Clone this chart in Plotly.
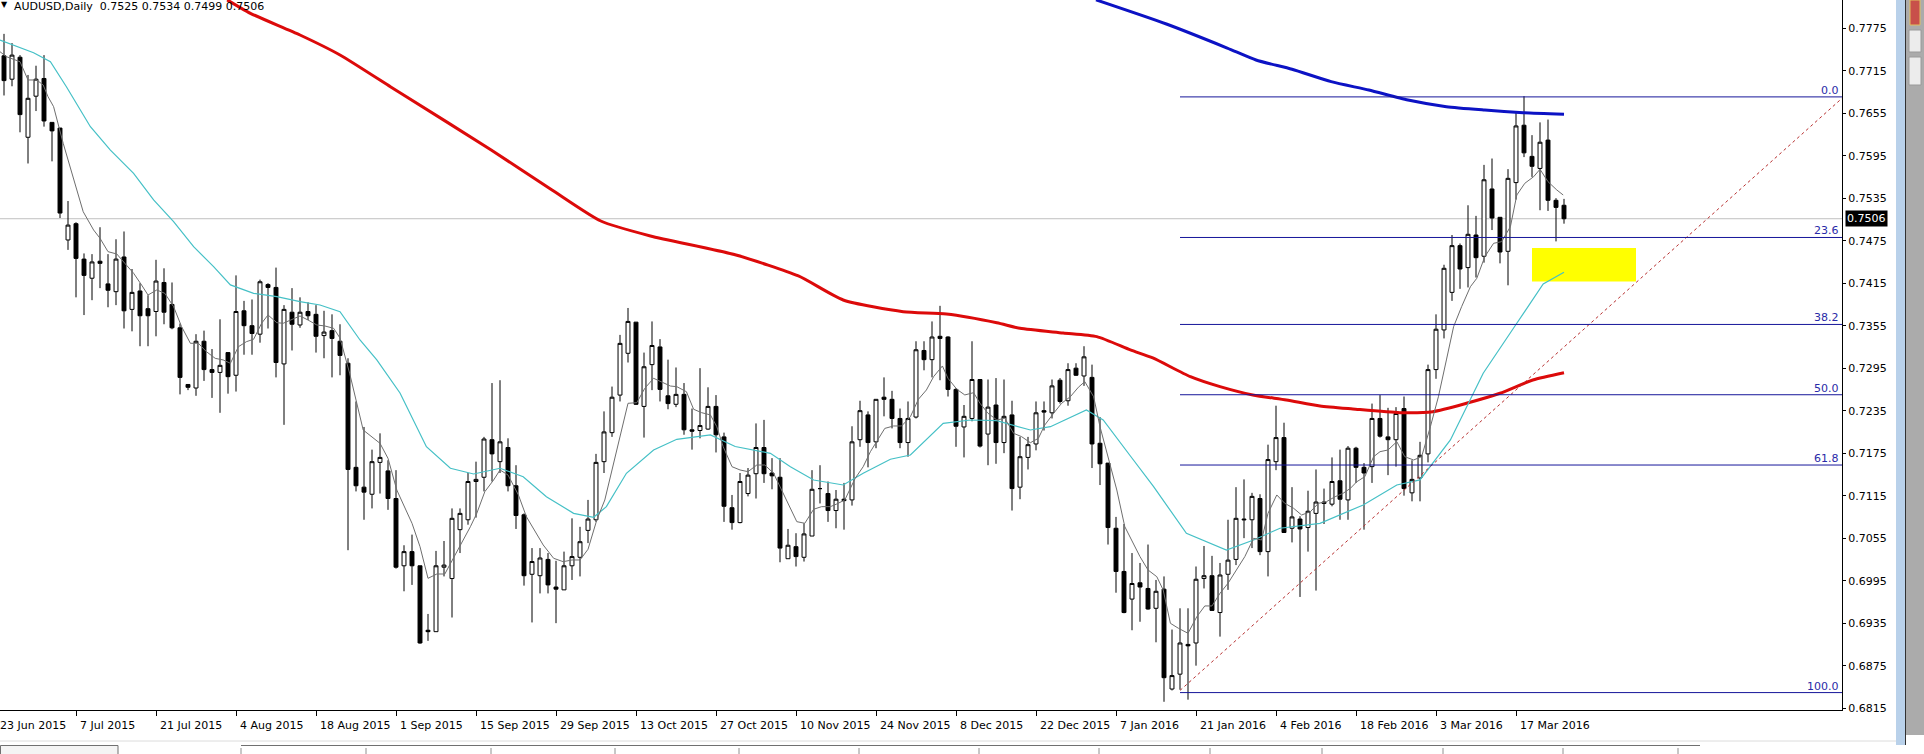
import plotly.graph_objects as go

# ---------------- data ----------------
symbol_title = "AUDUSD,Daily  0.7525 0.7534 0.7499 0.7506"

bars = list(range(1, 197))

open_ = [
    0.7736, 0.7703, 0.7734, 0.7621, 0.7679, 0.7704, 0.7642, 0.7634, 0.7476, 0.7499,
    0.7449, 0.7422, 0.7446, 0.7414, 0.7403, 0.7452, 0.7378, 0.7404, 0.7379, 0.7375,
    0.7416, 0.7385, 0.7352, 0.7272, 0.7267, 0.7333, 0.7293, 0.7289, 0.7317, 0.7285,
    0.7376, 0.7355, 0.7343, 0.7413, 0.7409, 0.7301, 0.7374, 0.7356, 0.7375, 0.7371,
    0.7341, 0.7348, 0.7333, 0.7302, 0.7155, 0.7127, 0.7117, 0.7162, 0.7150, 0.7111,
    0.7016, 0.7036, 0.7016, 0.6925, 0.6923, 0.7014, 0.6998, 0.7067, 0.7081, 0.7135,
    0.7141, 0.7194, 0.7163, 0.7183, 0.7129, 0.7088, 0.7004, 0.7002, 0.7025, 0.6986,
    0.6982, 0.7016, 0.7028, 0.7066, 0.7081, 0.7163, 0.7204, 0.7257, 0.7316, 0.7360,
    0.7241, 0.7300, 0.7325, 0.7256, 0.7244, 0.7258, 0.7208, 0.7207, 0.7209, 0.7241,
    0.7198, 0.7098, 0.7077, 0.7118, 0.7146, 0.7183, 0.7147, 0.7141, 0.7026, 0.7043,
    0.7028, 0.7058, 0.7125, 0.7118, 0.7094, 0.7110, 0.7109, 0.7194, 0.7229, 0.7191,
    0.7254, 0.7251, 0.7224, 0.7190, 0.7226, 0.7320, 0.7307, 0.7340, 0.7339, 0.7265,
    0.7212, 0.7224, 0.7279, 0.7202, 0.7243, 0.7190, 0.7229, 0.7127, 0.7169, 0.7188,
    0.7235, 0.7232, 0.7278, 0.7249, 0.7295, 0.7284, 0.7282, 0.7189, 0.7161, 0.7069,
    0.7008, 0.6969, 0.6992, 0.6984, 0.6956, 0.6983, 0.6842, 0.6863, 0.6905, 0.6907,
    0.6998, 0.7002, 0.6950, 0.7004, 0.7025, 0.7082, 0.7081, 0.7111, 0.7036, 0.7163,
    0.7197, 0.7069, 0.7082, 0.7070, 0.7090, 0.7104, 0.7103, 0.7136, 0.7109, 0.7182,
    0.7155, 0.7156, 0.7224, 0.7198, 0.7194, 0.7238, 0.7119, 0.7140, 0.7174, 0.7293,
    0.7349, 0.7402, 0.7468, 0.7437, 0.7483, 0.7453, 0.7548, 0.7508, 0.7460, 0.7557,
    0.7638, 0.7594, 0.7577, 0.7617, 0.7532, 0.7525,
]
high = [
    0.7767, 0.7754, 0.7737, 0.7709, 0.7722, 0.7737, 0.7642, 0.7634, 0.7531, 0.7501,
    0.7457, 0.7456, 0.7494, 0.7456, 0.7477, 0.7488, 0.7435, 0.7415, 0.7398, 0.7448,
    0.7436, 0.7416, 0.7358, 0.7272, 0.7343, 0.7348, 0.7322, 0.7364, 0.7317, 0.7426,
    0.7390, 0.7392, 0.7420, 0.7415, 0.7437, 0.7384, 0.7408, 0.7395, 0.7388, 0.7384,
    0.7376, 0.7371, 0.7357, 0.7309, 0.7248, 0.7212, 0.7180, 0.7203, 0.7165, 0.7151,
    0.7045, 0.7060, 0.7016, 0.6948, 0.7037, 0.7051, 0.7097, 0.7097, 0.7147, 0.7163,
    0.7198, 0.7274, 0.7278, 0.7196, 0.7158, 0.7090, 0.7041, 0.7041, 0.7034, 0.7023,
    0.7036, 0.7083, 0.7071, 0.7109, 0.7174, 0.7234, 0.7269, 0.7342, 0.7380, 0.7360,
    0.7317, 0.7361, 0.7336, 0.7307, 0.7296, 0.7274, 0.7238, 0.7295, 0.7268, 0.7257,
    0.7204, 0.7116, 0.7147, 0.7154, 0.7217, 0.7222, 0.7168, 0.7168, 0.7068, 0.7062,
    0.7076, 0.7151, 0.7158, 0.7135, 0.7123, 0.7133, 0.7213, 0.7249, 0.7234, 0.7251,
    0.7282, 0.7263, 0.7238, 0.7248, 0.7333, 0.7333, 0.7361, 0.7383, 0.7340, 0.7267,
    0.7243, 0.7333, 0.7279, 0.7279, 0.7281, 0.7279, 0.7249, 0.7198, 0.7198, 0.7248,
    0.7248, 0.7279, 0.7281, 0.7302, 0.7302, 0.7326, 0.7300, 0.7226, 0.7161, 0.7085,
    0.7075, 0.7034, 0.7020, 0.7046, 0.6996, 0.7001, 0.6926, 0.6956, 0.6956, 0.7015,
    0.7044, 0.7030, 0.7020, 0.7081, 0.7127, 0.7138, 0.7119, 0.7117, 0.7187, 0.7242,
    0.7218, 0.7127, 0.7086, 0.7122, 0.7152, 0.7125, 0.7169, 0.7180, 0.7185, 0.7184,
    0.7161, 0.7245, 0.7257, 0.7239, 0.7240, 0.7255, 0.7165, 0.7191, 0.7300, 0.7371,
    0.7441, 0.7483, 0.7471, 0.7525, 0.7510, 0.7582, 0.7591, 0.7508, 0.7576, 0.7656,
    0.7679, 0.7624, 0.7642, 0.7646, 0.7535, 0.7534,
]
low = [
    0.7680, 0.7693, 0.7628, 0.7584, 0.7658, 0.7636, 0.7587, 0.7507, 0.7462, 0.7395,
    0.7370, 0.7391, 0.7408, 0.7381, 0.7384, 0.7351, 0.7347, 0.7326, 0.7326, 0.7340,
    0.7357, 0.7350, 0.7258, 0.7264, 0.7256, 0.7277, 0.7253, 0.7232, 0.7259, 0.7262,
    0.7314, 0.7314, 0.7331, 0.7351, 0.7282, 0.7215, 0.7320, 0.7352, 0.7363, 0.7317,
    0.7309, 0.7282, 0.7285, 0.7038, 0.7121, 0.7081, 0.7097, 0.7118, 0.7095, 0.7012,
    0.6980, 0.6989, 0.6906, 0.6910, 0.6923, 0.7001, 0.6943, 0.7034, 0.7074, 0.7084,
    0.7121, 0.7135, 0.7147, 0.7121, 0.7068, 0.6988, 0.6936, 0.6977, 0.6977, 0.6935,
    0.6982, 0.6996, 0.7001, 0.7048, 0.7078, 0.7147, 0.7198, 0.7248, 0.7303, 0.7243,
    0.7197, 0.7264, 0.7248, 0.7237, 0.7240, 0.7201, 0.7180, 0.7196, 0.7208, 0.7176,
    0.7078, 0.7067, 0.7076, 0.7114, 0.7111, 0.7133, 0.7124, 0.7021, 0.7026, 0.7015,
    0.7022, 0.7058, 0.7104, 0.7078, 0.7069, 0.7067, 0.7101, 0.7184, 0.7155, 0.7182,
    0.7227, 0.7210, 0.7182, 0.7170, 0.7224, 0.7292, 0.7282, 0.7278, 0.7255, 0.7184,
    0.7169, 0.7220, 0.7183, 0.7158, 0.7160, 0.7175, 0.7094, 0.7110, 0.7152, 0.7179,
    0.7207, 0.7224, 0.7245, 0.7242, 0.7284, 0.7270, 0.7154, 0.7130, 0.7046, 0.6978,
    0.6949, 0.6925, 0.6937, 0.6954, 0.6908, 0.6824, 0.6840, 0.6841, 0.6827, 0.6875,
    0.6984, 0.6953, 0.6916, 0.6982, 0.7017, 0.7055, 0.7041, 0.7031, 0.7001, 0.7151,
    0.7063, 0.7049, 0.6972, 0.7036, 0.6981, 0.7075, 0.7100, 0.7081, 0.7081, 0.7133,
    0.7067, 0.7133, 0.7197, 0.7144, 0.7156, 0.7115, 0.7107, 0.7107, 0.7162, 0.7280,
    0.7337, 0.7390, 0.7407, 0.7409, 0.7423, 0.7444, 0.7490, 0.7443, 0.7412, 0.7533,
    0.7593, 0.7565, 0.7518, 0.7517, 0.7474, 0.7499,
]
close = [
    0.7701, 0.7737, 0.7653, 0.7676, 0.7703, 0.7644, 0.7630, 0.7514, 0.7497, 0.7450,
    0.7426, 0.7445, 0.7443, 0.7405, 0.7449, 0.7376, 0.7402, 0.7369, 0.7369, 0.7418,
    0.7374, 0.7352, 0.7282, 0.7268, 0.7333, 0.7293, 0.7289, 0.7299, 0.7283, 0.7375,
    0.7355, 0.7344, 0.7417, 0.7409, 0.7303, 0.7378, 0.7357, 0.7374, 0.7369, 0.7340,
    0.7346, 0.7337, 0.7313, 0.7152, 0.7129, 0.7120, 0.7163, 0.7169, 0.7111, 0.7014,
    0.7036, 0.7016, 0.6907, 0.6923, 0.7016, 0.7017, 0.7083, 0.7090, 0.7135, 0.7138,
    0.7195, 0.7174, 0.7191, 0.7129, 0.7087, 0.7002, 0.7022, 0.7027, 0.6989, 0.6983,
    0.7016, 0.7029, 0.7050, 0.7082, 0.7162, 0.7205, 0.7254, 0.7330, 0.7361, 0.7244,
    0.7297, 0.7327, 0.7265, 0.7245, 0.7258, 0.7208, 0.7206, 0.7214, 0.7241, 0.7201,
    0.7100, 0.7077, 0.7135, 0.7144, 0.7183, 0.7146, 0.7143, 0.7041, 0.7045, 0.7029,
    0.7061, 0.7124, 0.7125, 0.7094, 0.7110, 0.7108, 0.7191, 0.7235, 0.7190, 0.7251,
    0.7251, 0.7224, 0.7190, 0.7224, 0.7321, 0.7307, 0.7339, 0.7337, 0.7265, 0.7213,
    0.7227, 0.7279, 0.7185, 0.7240, 0.7190, 0.7227, 0.7125, 0.7170, 0.7187, 0.7232,
    0.7233, 0.7270, 0.7248, 0.7293, 0.7285, 0.7311, 0.7188, 0.7160, 0.7070, 0.7008,
    0.6950, 0.6991, 0.6986, 0.6955, 0.6980, 0.6858, 0.6861, 0.6907, 0.6903, 0.6997,
    0.7002, 0.6953, 0.7003, 0.7024, 0.7083, 0.7081, 0.7114, 0.7036, 0.7166, 0.7197,
    0.7063, 0.7085, 0.7068, 0.7093, 0.7106, 0.7106, 0.7135, 0.7110, 0.7182, 0.7155,
    0.7147, 0.7224, 0.7199, 0.7194, 0.7231, 0.7125, 0.7138, 0.7172, 0.7293, 0.7350,
    0.7436, 0.7468, 0.7435, 0.7484, 0.7451, 0.7561, 0.7507, 0.7459, 0.7563, 0.7637,
    0.7599, 0.7580, 0.7614, 0.7532, 0.7522, 0.7506,
]

# moving averages (bar position, price)
red_ma_x = [28.9, 31.8, 38, 43, 49.3, 50.5, 61.9, 69.5, 75.6, 81.8, 92.5, 100.3, 105.9,
            113.4, 118.8, 125.1, 128, 133.4, 137.6, 141.8, 144.6, 149.3, 153, 157.1,
            161.3, 165.5, 169.6, 175.5, 179.6, 183.8, 188, 192.1, 196]
red_ma_p = [0.7815, 0.7796, 0.77654, 0.77372, 0.76924, 0.76840, 0.7603, 0.75466, 0.75028,
            0.74817, 0.74548, 0.74252, 0.73913, 0.73748, 0.73715, 0.73592, 0.73513,
            0.73447, 0.73395, 0.73207, 0.73094, 0.7283, 0.72689, 0.72572, 0.72501,
            0.72416, 0.72374, 0.72322, 0.72336, 0.72454, 0.72596, 0.72783, 0.72886]

blue_ma_x = [137.5, 146.3, 153.9, 157.5, 162, 166.9, 171.6, 176.5, 181.3, 186.1, 190.9, 196]
blue_ma_p = [0.7815, 0.77809, 0.7747, 0.77301, 0.7717, 0.76995, 0.76877, 0.76736,
             0.76642, 0.76595, 0.76557, 0.76534]

cyan_ma_x = [0.5, 2.2, 4.7, 6.8, 8.8, 11.8, 14.3, 17.2, 19.7, 22.2, 24.7, 27.2, 29.3, 32.2,
             35.1, 38, 40.5, 43, 45.5, 47.6, 50.5, 53.8, 56.8, 59.7, 63, 65.9, 68.8, 72.2,
             74.7, 76.3, 78.8, 82.2, 85.1, 89.3, 92.4, 96.8, 99.3, 102.2, 105.9, 108.4,
             111.8, 114.3, 118.4, 121.8, 125.1, 129.3, 131.8, 136.3, 138.4, 141.8, 144.7,
             148.8, 153.8, 157.2, 160.5, 165.5, 170.9, 175.1, 178, 181.8, 185.9, 190.1,
             193.4, 196]
cyan_ma_p = [0.77583, 0.77513, 0.77404, 0.77277, 0.76924, 0.76359, 0.76029, 0.75701,
             0.75325, 0.75018, 0.74665, 0.74383, 0.74126, 0.74007, 0.73959, 0.73889,
             0.73842, 0.73748, 0.73348, 0.73066, 0.726, 0.71842, 0.71537, 0.71456,
             0.71537, 0.71418, 0.71136, 0.70901, 0.70845, 0.70995, 0.71466, 0.71795,
             0.71946, 0.72007, 0.71844, 0.71748, 0.71559, 0.71371, 0.71301, 0.71466,
             0.71664, 0.71724, 0.72172, 0.72218, 0.72209, 0.72077, 0.72124, 0.7236,
             0.72219, 0.7171, 0.71277, 0.70619, 0.70383, 0.70524, 0.7069, 0.7076,
             0.71019, 0.71301, 0.71372, 0.71937, 0.72878, 0.73584, 0.74139, 0.74304]

gray_ma_x = [0.5, 1.3, 3, 4, 5.1, 5.9, 6.5, 7.2, 8.4, 9.7, 10.9, 12.2, 13, 14, 15.1, 16.1,
             17.2, 18.2, 19, 20.1, 21.1, 22.2, 23.2, 24.3, 25.3, 26.3, 27.4, 28.4, 29.3,
             30.3, 31.3, 32.2, 33.2, 34, 35.1, 35.9, 37, 38, 39, 40.1, 41.1, 42.2, 43,
             44.2, 45.9, 48, 49, 50.1, 52, 53, 54, 55.1, 56.1, 57.4, 58.4, 59.3, 60.1,
             61.1, 62.2, 63, 64, 65.3, 66.3, 67.4, 68.4, 69.7, 70.9, 72, 73, 74, 75.1,
             76.1, 77.2, 78.2, 79, 80.1, 81.1, 82.2, 83.2, 84.3, 85.1, 86.3, 87.2, 88.2,
             89.3, 90.1, 90.9, 92, 93, 94, 95.1, 96.1, 97.2, 98.2, 99.3, 100.1, 101.1,
             102.2, 103.2, 104.3, 105.1, 106.1, 107.4, 108.4, 109.3, 110.1, 111.1, 112.2,
             113.2, 114.3, 115.3, 116.3, 117.2, 118.3, 119, 120.1, 121.1, 122.2, 123, 124,
             125.1, 126.1, 127.2, 128.2, 129.3, 130.3, 131.1, 132.2, 133.2, 134.3, 135.3,
             136.1, 137.2, 138, 139, 140.1, 141.1, 143, 144, 145.1, 145.9, 146.8, 147.8,
             149, 150.1, 151.1, 152, 153, 154, 154.9, 156.1, 157.2, 158.2, 159, 160.1,
             161.1, 162.2, 163.2, 164.3, 165.3, 166.3, 167.4, 168.4, 169.3, 170.1, 171.1,
             172.2, 173, 174, 175.1, 176.1, 177.2, 178.2, 179.3, 180.3, 181.3, 182.2,
             183.2, 184.3, 185.1, 186.1, 187.2, 188.2, 189.3, 190.1, 191.1, 192.2, 193,
             194, 195.1, 195.9]
gray_ma_p = [0.77418, 0.77348, 0.77277, 0.77019, 0.77019, 0.76948, 0.76783, 0.76642,
             0.76125, 0.75607, 0.75159, 0.74901, 0.74784, 0.74595, 0.74562, 0.74431,
             0.7429, 0.74124, 0.73983, 0.74054, 0.74007, 0.73818, 0.73536, 0.73301,
             0.73301, 0.73183, 0.73089, 0.73066, 0.73019, 0.73253, 0.73324, 0.73358,
             0.73584, 0.73701, 0.73592, 0.73584, 0.7364, 0.73687, 0.7363, 0.7356,
             0.73546, 0.73513, 0.73376, 0.7288, 0.72077, 0.71889, 0.71677, 0.7123,
             0.7076, 0.7043, 0.69983, 0.70044, 0.70044, 0.70312, 0.70524, 0.70712,
             0.70901, 0.71206, 0.71371, 0.71513, 0.71442, 0.7116, 0.70853, 0.70642,
             0.70454, 0.70266, 0.70218, 0.70242, 0.70242, 0.70393, 0.70807, 0.71089,
             0.71607, 0.72077, 0.72454, 0.72463, 0.72666, 0.72807, 0.72759, 0.72698,
             0.72689, 0.72618, 0.7237, 0.72322, 0.7229, 0.72124, 0.71842, 0.71559,
             0.71513, 0.71489, 0.71583, 0.71583, 0.71466, 0.7123, 0.70994, 0.70783,
             0.7076, 0.70958, 0.70995, 0.70995, 0.71033, 0.71089, 0.71395, 0.71559,
             0.71771, 0.71912, 0.721, 0.72134, 0.72134, 0.72265, 0.72511, 0.72642,
             0.7283, 0.72981, 0.72807, 0.72652, 0.72572, 0.72604, 0.72454, 0.72313,
             0.72219, 0.72242, 0.72031, 0.71983, 0.71898, 0.7196, 0.72148, 0.72313,
             0.72454, 0.72548, 0.72681, 0.7276, 0.72548, 0.72124, 0.717, 0.7123,
             0.70712, 0.70289, 0.70101, 0.70006, 0.69818, 0.69348, 0.69278, 0.69207,
             0.69441, 0.69593, 0.69593, 0.69772, 0.69913, 0.70077, 0.70289, 0.70548,
             0.70524, 0.70901, 0.7116, 0.71042, 0.70972, 0.70877, 0.70924, 0.71042,
             0.71065, 0.71136, 0.71184, 0.71254, 0.71347, 0.71418, 0.717, 0.71771,
             0.71795, 0.71912, 0.717, 0.71654, 0.717, 0.72124, 0.72547, 0.73066,
             0.73536, 0.73818, 0.741, 0.74219, 0.74524, 0.74713, 0.74736, 0.74948,
             0.75395, 0.7556, 0.75653, 0.75758, 0.75583, 0.75466, 0.75395]

# Fibonacci retracement drawn from the January low to the March high
fib_levels = [0.0, 23.6, 38.2, 50.0, 61.8, 100.0]
fib_high = 0.7678
fib_low = 0.6837
fib_start_bar = 148

# dotted trend line (two anchor points)
trend_x = [148, 230.75]
trend_p = [0.6840, 0.7676]

# highlighted zone
zone_x = [192, 205]
zone_p = [0.74172, 0.74647]

current_price = 0.7506

# axes
tick_bars = [0, 10, 20, 30, 40, 50, 60, 70, 80, 90, 100, 110, 120, 130, 140, 150, 160,
             170, 180, 190]
tick_dates = ["23 Jun 2015", "7 Jul 2015", "21 Jul 2015", "4 Aug 2015", "18 Aug 2015",
              "1 Sep 2015", "15 Sep 2015", "29 Sep 2015", "13 Oct 2015", "27 Oct 2015",
              "10 Nov 2015", "24 Nov 2015", "8 Dec 2015", "22 Dec 2015", "7 Jan 2016",
              "21 Jan 2016", "4 Feb 2016", "18 Feb 2016", "3 Mar 2016", "17 Mar 2016"]
price_ticks = [0.6815, 0.6875, 0.6935, 0.6995, 0.7055, 0.7115, 0.7175, 0.7235, 0.7295,
               0.7355, 0.7415, 0.7475, 0.7535, 0.7595, 0.7655, 0.7715, 0.7775]

x_range = [0.5, 230.75]
y_range = [0.68124, 0.78148]

# ---------------- figure ----------------
W, H = 1924, 754
ML, MR, MT, MB = 0, 82, 0, 44
PW, PH = W - ML - MR, H - MT - MB
FONT = "DejaVu Sans"


def px_x(px):
    return (px - ML) / PW


def px_y(py):
    return (PH + MT - py) / PH


fig = go.Figure()

fig.add_trace(go.Candlestick(
    x=bars, open=open_, high=high, low=low, close=close,
    increasing=dict(line=dict(color="#000000", width=1), fillcolor="#ffffff"),
    decreasing=dict(line=dict(color="#000000", width=1), fillcolor="#000000"),
    whiskerwidth=0, hoverinfo="skip", showlegend=False,
))

fig.add_trace(go.Scatter(x=red_ma_x, y=red_ma_p, mode="lines",
                         line=dict(color="#dc0a0a", width=3, shape="spline",
                                   smoothing=0.6),
                         hoverinfo="skip", showlegend=False))
fig.add_trace(go.Scatter(x=blue_ma_x, y=blue_ma_p, mode="lines",
                         line=dict(color="#0c12c4", width=3, shape="spline",
                                   smoothing=0.6),
                         hoverinfo="skip", showlegend=False))
fig.add_trace(go.Scatter(x=cyan_ma_x, y=cyan_ma_p, mode="lines",
                         line=dict(color="#45c0c6", width=1.2), hoverinfo="skip",
                         showlegend=False))
fig.add_trace(go.Scatter(x=gray_ma_x, y=gray_ma_p, mode="lines",
                         line=dict(color="#6e6e6e", width=1), hoverinfo="skip",
                         showlegend=False))
fig.add_trace(go.Scatter(x=trend_x, y=trend_p, mode="lines",
                         line=dict(color="#b83030", width=1, dash="3px,3px"),
                         hoverinfo="skip", showlegend=False))

shapes = []
# current price line
shapes.append(dict(type="line", xref="paper", yref="y", x0=0, x1=1,
                   y0=current_price, y1=current_price,
                   line=dict(color="#c0c0c0", width=1), layer="below"))
# yellow zone
shapes.append(dict(type="rect", xref="x", yref="y", x0=zone_x[0], x1=zone_x[1],
                   y0=zone_p[0], y1=zone_p[1], fillcolor="#ffff00",
                   line=dict(width=0), layer="below"))
# fibonacci levels
annotations = []
for lv in fib_levels:
    price = fib_high - lv / 100.0 * (fib_high - fib_low)
    shapes.append(dict(type="line", xref="x", yref="y", x0=fib_start_bar, x1=x_range[1],
                       y0=price, y1=price, line=dict(color="#16169a", width=1)))
    annotations.append(dict(xref="paper", yref="y", x=1, y=price, text="%.1f" % lv,
                            xanchor="right", yanchor="bottom", showarrow=False,
                            xshift=-1, yshift=-2,
                            font=dict(family=FONT, size=11, color="#2a2aa8")))

# date labels (left-aligned at their tick like MetaTrader)
px_per_bar = PW / (x_range[1] - x_range[0])
for b, label in zip(tick_bars, tick_dates):
    ax_x = max(b, x_range[0])
    annotations.append(dict(xref="x", yref="paper", x=ax_x, y=0, text=label,
                            xanchor="left", yanchor="top", showarrow=False,
                            xshift=(b - ax_x) * px_per_bar + 2, yshift=-7,
                            font=dict(family=FONT, size=11, color="#000000")))

# title
annotations.append(dict(xref="paper", yref="paper", x=0, y=1, text="▼",
                        xanchor="left", yanchor="top", showarrow=False, xshift=-1,
                        yshift=2, font=dict(family=FONT, size=8, color="#000000")))
annotations.append(dict(xref="paper", yref="paper", x=0, y=1, text=symbol_title,
                        xanchor="left", yanchor="top", showarrow=False, xshift=12,
                        yshift=2, font=dict(family=FONT, size=11, color="#000000")))
# current price tag
annotations.append(dict(xref="paper", yref="y", x=1, y=current_price,
                        text="%.4f" % current_price, xanchor="left", yanchor="middle",
                        showarrow=False, xshift=3, bgcolor="#000000", borderpad=1,
                        font=dict(family=FONT, size=11, color="#ffffff")))

# window chrome: scrollbar strip on the right, tab bar at the bottom
shapes.append(dict(type="rect", xref="paper", yref="paper", x0=px_x(1896), x1=px_x(1905),
                   y0=px_y(745), y1=px_y(0), fillcolor="#b9d1ea", line=dict(width=0)))
shapes.append(dict(type="rect", xref="paper", yref="paper", x0=px_x(1906), x1=px_x(1924),
                   y0=px_y(735), y1=px_y(0), fillcolor="#ababab", line=dict(width=0)))
shapes.append(dict(type="line", xref="paper", yref="paper", x0=px_x(1905.5),
                   x1=px_x(1905.5), y0=px_y(745), y1=px_y(0),
                   line=dict(color="#303030", width=1)))
shapes.append(dict(type="rect", xref="paper", yref="paper", x0=px_x(1910), x1=px_x(1920),
                   y0=px_y(25), y1=px_y(0), fillcolor="#c8504a",
                   line=dict(color="#e0c060", width=1)))
for y_a, y_b in [(30, 52), (57, 85)]:
    shapes.append(dict(type="rect", xref="paper", yref="paper", x0=px_x(1909),
                       x1=px_x(1921), y0=px_y(y_b), y1=px_y(y_a), fillcolor="#ececec",
                       line=dict(color="#9a9a9a", width=1)))
shapes.append(dict(type="line", xref="paper", yref="paper", x0=0, x1=px_x(1896),
                   y0=px_y(741), y1=px_y(741), line=dict(color="#dcdcdc", width=1)))
shapes.append(dict(type="rect", xref="paper", yref="paper", x0=px_x(0.5), x1=px_x(118),
                   y0=px_y(760), y1=px_y(745.5), fillcolor="#f4f4f4",
                   line=dict(color="#707070", width=1)))
shapes.append(dict(type="line", xref="paper", yref="paper", x0=px_x(241), x1=px_x(1700),
                   y0=px_y(745.5), y1=px_y(745.5), line=dict(color="#707070", width=1)))
for sx in [241, 366, 491, 615, 739, 859, 979, 1099, 1210, 1322, 1443, 1563, 1678]:
    shapes.append(dict(type="line", xref="paper", yref="paper", x0=px_x(sx), x1=px_x(sx),
                       y0=px_y(754), y1=px_y(748),
                       line=dict(color="#909090", width=1)))

fig.update_layout(
    width=W, height=H,
    margin=dict(l=ML, r=MR, t=MT, b=MB, pad=0),
    paper_bgcolor="#ffffff", plot_bgcolor="#ffffff",
    showlegend=False, hovermode=False,
    shapes=shapes, annotations=annotations,
    font=dict(family=FONT, size=11, color="#000000"),
    xaxis=dict(range=x_range, showgrid=False, zeroline=False, showline=True,
               linecolor="#000000", linewidth=1, ticks="outside", ticklen=5,
               tickcolor="#000000", tickvals=tick_bars, showticklabels=False,
               rangeslider=dict(visible=False), fixedrange=True),
    yaxis=dict(range=y_range, side="right", showgrid=False, zeroline=False,
               showline=True, linecolor="#000000", linewidth=1, ticks="outside",
               ticklen=3, tickcolor="#000000", tickvals=price_ticks,
               ticktext=["%.4f" % v for v in price_ticks],
               tickfont=dict(family=FONT, size=11, color="#000000"), fixedrange=True),
)

fig.write_html("out.html")
